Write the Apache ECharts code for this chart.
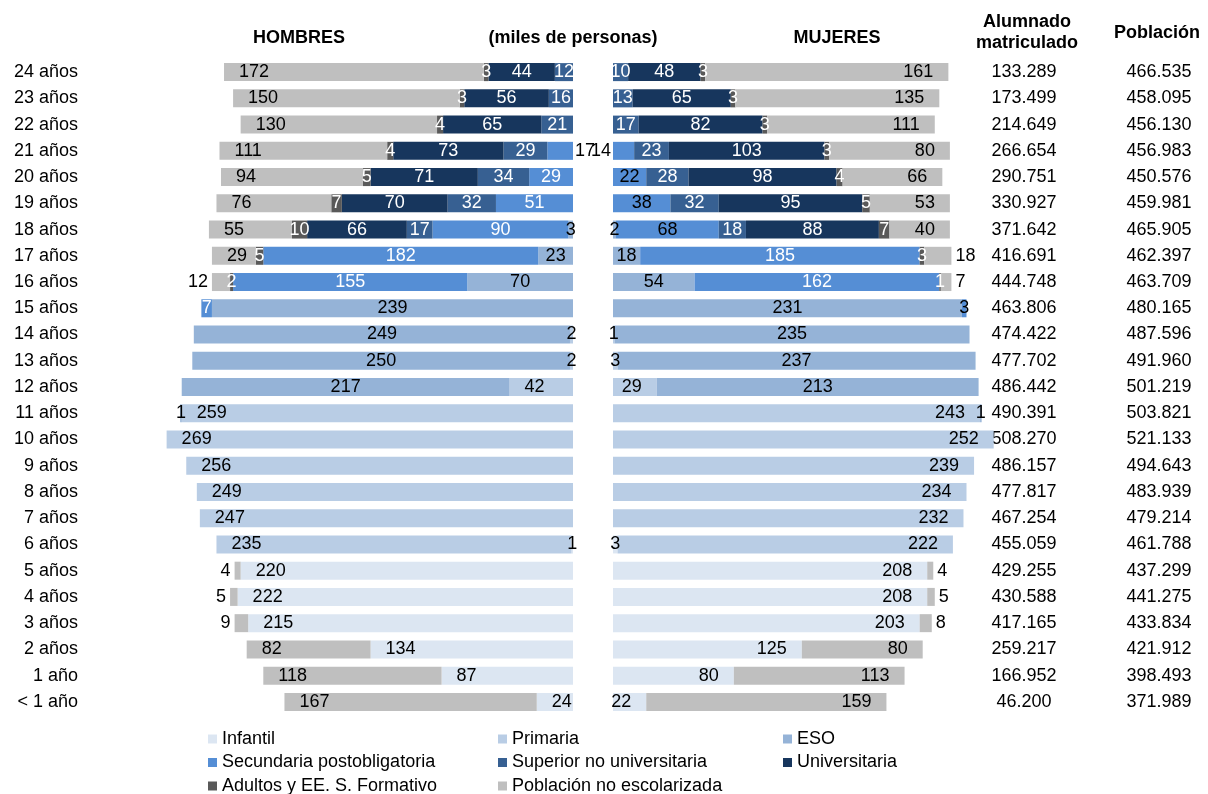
<!DOCTYPE html>
<html>
<head>
<meta charset="utf-8">
<title>Alumnado matriculado y población</title>
<script src="https://cdn.jsdelivr.net/npm/echarts@6/dist/echarts.min.js"></script>
<style>
  html, body { margin: 0; padding: 0; background: #fff; }
  #chart { width: 1208px; height: 794px; }
</style>
</head>
<body>
<div id="chart"></div>
<script>
// edades, de abajo (< 1 año) hacia arriba (24 años)
var edades = ['< 1 año', '1 año', '2 años', '3 años', '4 años', '5 años', '6 años', '7 años', '8 años', '9 años',
    '10 años', '11 años', '12 años', '13 años', '14 años', '15 años', '16 años', '17 años', '18 años', '19 años',
    '20 años', '21 años', '22 años', '23 años', '24 años'];

// HOMBRES (miles de personas)
var infantil_h      = [24, 87, 134, 215, 222, 220, 1, 0, 0, 0, 0, 0, 0, 0, 0, 0, 0, 0, 0, 0, 0, 0, 0, 0, 0];
var primaria_h      = [0, 0, 0, 0, 0, 0, 235, 247, 249, 256, 269, 259, 42, 2, 2, 0, 0, 0, 0, 0, 0, 0, 0, 0, 0];
var eso_h           = [0, 0, 0, 0, 0, 0, 0, 0, 0, 0, 0, 1, 217, 250, 249, 239, 70, 23, 3, 0, 0, 0, 0, 0, 0];
var secundaria_h    = [0, 0, 0, 0, 0, 0, 0, 0, 0, 0, 0, 0, 0, 0, 0, 7, 155, 182, 90, 51, 29, 17, 0, 0, 0];
var superior_h      = [0, 0, 0, 0, 0, 0, 0, 0, 0, 0, 0, 0, 0, 0, 0, 0, 0, 0, 17, 32, 34, 29, 21, 16, 12];
var universitaria_h = [0, 0, 0, 0, 0, 0, 0, 0, 0, 0, 0, 0, 0, 0, 0, 0, 0, 0, 66, 70, 71, 73, 65, 56, 44];
var adultos_h       = [0, 0, 0, 0, 0, 0, 0, 0, 0, 0, 0, 0, 0, 0, 0, 0, 2, 5, 10, 7, 5, 4, 4, 3, 3];
var noesc_h         = [167, 118, 82, 9, 5, 4, 0, 0, 0, 0, 0, 0, 0, 0, 0, 0, 12, 29, 55, 76, 94, 111, 130, 150, 172];

// MUJERES (miles de personas)
var infantil_m      = [22, 80, 125, 203, 208, 208, 3, 0, 0, 0, 0, 0, 0, 0, 0, 0, 0, 0, 0, 0, 0, 0, 0, 0, 0];
var primaria_m      = [0, 0, 0, 0, 0, 0, 222, 232, 234, 239, 252, 243, 29, 3, 1, 0, 0, 0, 0, 0, 0, 0, 0, 0, 0];
var eso_m           = [0, 0, 0, 0, 0, 0, 0, 0, 0, 0, 0, 1, 213, 237, 235, 231, 54, 18, 2, 0, 0, 0, 0, 0, 0];
var secundaria_m    = [0, 0, 0, 0, 0, 0, 0, 0, 0, 0, 0, 0, 0, 0, 0, 3, 162, 185, 68, 38, 22, 14, 0, 0, 0];
var superior_m      = [0, 0, 0, 0, 0, 0, 0, 0, 0, 0, 0, 0, 0, 0, 0, 0, 0, 0, 18, 32, 28, 23, 17, 13, 10];
var universitaria_m = [0, 0, 0, 0, 0, 0, 0, 0, 0, 0, 0, 0, 0, 0, 0, 0, 0, 0, 88, 95, 98, 103, 82, 65, 48];
var adultos_m       = [0, 0, 0, 0, 0, 0, 0, 0, 0, 0, 0, 0, 0, 0, 0, 0, 1, 3, 7, 5, 4, 3, 3, 3, 3];
var noesc_m         = [159, 113, 80, 8, 5, 4, 0, 0, 0, 0, 0, 0, 0, 0, 0, 0, 7, 18, 40, 53, 66, 80, 111, 135, 161];

// columnas de la derecha (personas)
var alumnado  = [46200, 166952, 259217, 417165, 430588, 429255, 455059, 467254, 477817, 486157,
    508270, 490391, 486442, 477702, 474422, 463806, 444748, 416691, 371642, 330927,
    290751, 266654, 214649, 173499, 133289];
var poblacion = [371989, 398493, 421912, 433834, 441275, 437299, 461788, 479214, 483939, 494643,
    521133, 503821, 501219, 491960, 487596, 480165, 463709, 462397, 465905, 459981,
    450576, 456983, 456130, 458095, 466535];

var FONT = '"Liberation Sans", Arial, sans-serif';

// orden de apilado: del centro hacia fuera
var niveles = [
    {key: 'inf', name: 'Infantil', color: '#dce6f2', txt: '#000', end: true, h: infantil_h, m: infantil_m},
    {key: 'pri', name: 'Primaria', color: '#b9cde5', txt: '#000', end: true, h: primaria_h, m: primaria_m},
    {key: 'eso', name: 'ESO', color: '#95b3d7', txt: '#000', end: false, h: eso_h, m: eso_m},
    {key: 'sec', name: 'Secundaria postobligatoria', color: '#558ed5', txt: '#fff', end: false, h: secundaria_h, m: secundaria_m},
    {key: 'sup', name: 'Superior no universitaria', color: '#376092', txt: '#fff', end: false, h: superior_h, m: superior_m},
    {key: 'uni', name: 'Universitaria', color: '#17365d', txt: '#fff', end: false, h: universitaria_h, m: universitaria_m},
    {key: 'adu', name: 'Adultos y EE. S. Formativo', color: '#595959', txt: '#fff', end: false, h: adultos_h, m: adultos_m},
    {key: 'noe', name: 'Población no escolarizada', color: '#bfbfbf', txt: '#000', end: true, h: noesc_h, m: noesc_m}
];

function miles(n) {
    return String(n).replace(/\B(?=(\d{3})+(?!\d))/g, '.');
}

function serie(nv, lado) {
    var hombres = lado === 'h';
    var vals = hombres ? nv.h : nv.m;
    var fuera = hombres ? 'left' : 'right';
    var dentro = hombres ? 'right' : 'left';
    var data = vals.map(function (v, i) {
        if (!v) return '-';
        var item = {value: hombres ? -v : v};
        var lab = {};
        if (nv.key === 'noe' && v < 20) { lab.position = fuera; lab.distance = 4; }
        else if (nv.end && v < 10) { lab.position = 'inside'; }
        if (nv.key === 'sec' && i === 21) { lab.position = dentro; lab.distance = 2; lab.color = '#000'; }
        if (nv.key === 'sec' && !hombres && [15, 18, 19, 20].indexOf(i) >= 0) { lab.color = '#000'; }
        if (Object.keys(lab).length) item.label = lab;
        return item;
    });
    return {
        name: nv.name,
        type: 'bar',
        stack: lado,
        xAxisIndex: hombres ? 0 : 1,
        yAxisIndex: hombres ? 0 : 1,
        barWidth: 18,
        itemStyle: {color: nv.color},
        label: {
            show: true,
            position: nv.end ? (hombres ? 'insideLeft' : 'insideRight') : 'inside',
            distance: 15,
            color: nv.txt,
            fontSize: 18,
            fontFamily: FONT,
            formatter: function (p) { return Math.abs(p.value); }
        },
        data: data
    };
}

var series = [];
niveles.forEach(function (nv) { series.push(serie(nv, 'h')); });
niveles.forEach(function (nv) { series.push(serie(nv, 'm')); });

// leyenda en 3 columnas: una entrada por componente
var colLeft = [208, 498, 783];
var rowTop = [730, 753.5, 777];
var legends = niveles.map(function (nv, i) {
    return {
        left: colLeft[i % 3], top: rowTop[Math.floor(i / 3)], padding: 0,
        itemWidth: 9, itemHeight: 9, icon: 'rect', selectedMode: false,
        textStyle: {fontSize: 18, lineHeight: 18, fontFamily: FONT, color: '#000'},
        data: [nv.name]
    };
});

var chart = echarts.init(document.getElementById('chart'));
var option = {
    backgroundColor: '#fff',
    animation: false,
    grid: [
        {left: 150, width: 423, top: 59, height: 656, outerBoundsMode: 'none'},
        {left: 613, width: 423, top: 59, height: 656, outerBoundsMode: 'none'}
    ],
    xAxis: [
        {gridIndex: 0, type: 'value', min: -280, max: 0, show: false},
        {gridIndex: 1, type: 'value', min: 0, max: 280, show: false}
    ],
    yAxis: [
        {
            gridIndex: 0, type: 'category', data: edades, position: 'left',
            axisLine: {show: false}, axisTick: {show: false},
            axisLabel: {interval: 0, margin: 72, fontSize: 18, fontFamily: FONT, color: '#000'}
        },
        {
            gridIndex: 1, type: 'category', data: edades,
            axisLine: {show: false}, axisTick: {show: false}, axisLabel: {show: false}
        },
        {
            gridIndex: 1, type: 'category', data: edades, position: 'right', offset: -12,
            axisLine: {show: false}, axisTick: {show: false},
            axisLabel: {
                interval: 0, margin: 0, align: 'center', fontSize: 18, fontFamily: FONT, color: '#000',
                formatter: function (v, i) { return miles(alumnado[i]); }
            }
        },
        {
            gridIndex: 1, type: 'category', data: edades, position: 'right', offset: 123,
            axisLine: {show: false}, axisTick: {show: false},
            axisLabel: {
                interval: 0, margin: 0, align: 'center', fontSize: 18, fontFamily: FONT, color: '#000',
                formatter: function (v, i) { return miles(poblacion[i]); }
            }
        }
    ],
    legend: legends,
    graphic: [
        {type: 'text', x: 299, y: 38, style: {text: 'HOMBRES', font: 'bold 18px ' + FONT, fill: '#000', align: 'center', verticalAlign: 'middle'}},
        {type: 'text', x: 573, y: 38, style: {text: '(miles de personas)', font: 'bold 18px ' + FONT, fill: '#000', align: 'center', verticalAlign: 'middle'}},
        {type: 'text', x: 837, y: 38, style: {text: 'MUJERES', font: 'bold 18px ' + FONT, fill: '#000', align: 'center', verticalAlign: 'middle'}},
        {type: 'text', x: 1027, y: 22, style: {text: 'Alumnado', font: 'bold 18px ' + FONT, fill: '#000', align: 'center', verticalAlign: 'middle'}},
        {type: 'text', x: 1027, y: 43, style: {text: 'matriculado', font: 'bold 18px ' + FONT, fill: '#000', align: 'center', verticalAlign: 'middle'}},
        {type: 'text', x: 1157, y: 33, style: {text: 'Población', font: 'bold 18px ' + FONT, fill: '#000', align: 'center', verticalAlign: 'middle'}}
    ],
    series: series
};
chart.setOption(option);
</script>
</body>
</html>
